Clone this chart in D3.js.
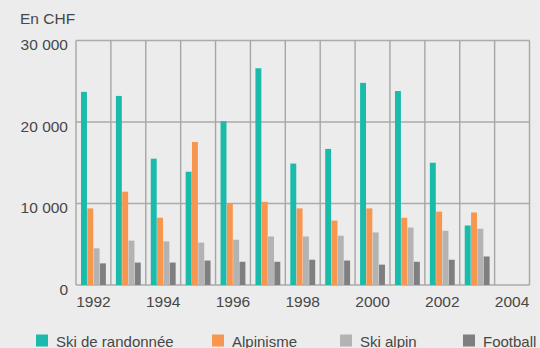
<!DOCTYPE html>
<html>
<head>
<meta charset="utf-8">
<script src="https://cdn.jsdelivr.net/npm/d3@7"></script>
<style>
  html, body { margin: 0; padding: 0; background: #ececec; }
  svg { display: block; }
  text { font-family: "Liberation Sans", Arial, Helvetica, sans-serif; fill: #474747; }
</style>
</head>
<body>
<svg id="chart" width="540" height="348"></svg>
<script>
// Annual values per sport, in CHF
const years = [1992, 1993, 1994, 1995, 1996, 1997, 1998, 1999, 2000, 2001, 2002, 2003, 2004];
const seriesNames = ["Ski de randonnée", "Alpinisme", "Ski alpin", "Football"];
const skiRando  = [23700, 23200, 15500, 13900, 20100, 26600, 14900, 16700, 24800, 23800, 15000, 7300, null];
const alpinisme = [9400, 11450, 8250, 17550, 10000, 10200, 9400, 7900, 9400, 8250, 9000, 8900, null];
const skiAlpin  = [4500, 5450, 5350, 5200, 5550, 5950, 5950, 6050, 6450, 7050, 6650, 6900, null];
const football  = [2650, 2750, 2750, 3000, 2850, 2850, 3100, 3000, 2500, 2850, 3100, 3500, null];
const yTicks = [0, 10000, 20000, 30000];
const xTickYears = [1992, 1994, 1996, 1998, 2000, 2002, 2004];
const colors = ["#1bbbab", "#f7964f", "#b3b3b3", "#7f7f82"];

const seriesValues = [skiRando, alpinisme, skiAlpin, football];

const svg = d3.select("#chart");
const plot = { left: 76, right: 529.5, top: 40.5, bottom: 285 };

const x = d3.scaleBand().domain(years).range([plot.left, plot.right]).padding(0);
const inner = d3.scaleBand().domain(d3.range(seriesNames.length))
  .range([5, x.bandwidth() - 5]).paddingInner(0.06);
const y = d3.scaleLinear().domain([0, 30000]).range([plot.bottom, plot.top]);

const fmt = v => d3.format(",")(v).replace(/,/g, " ");

// Grid: horizontal lines
svg.append("g").selectAll("line").data(yTicks).join("line")
  .attr("x1", plot.left).attr("x2", plot.right)
  .attr("y1", d => y(d)).attr("y2", d => y(d))
  .attr("stroke", "#ababab").attr("stroke-width", 1.5);

// Grid: vertical column separators
const vx = years.map(d => x(d)).concat([plot.right]);
svg.append("g").selectAll("line").data(vx).join("line")
  .attr("x1", d => d).attr("x2", d => d)
  .attr("y1", plot.top).attr("y2", plot.bottom)
  .attr("stroke", "#a6a6a6").attr("stroke-width", 1.4);

// Bars
const groups = svg.append("g").selectAll("g").data(years).join("g")
  .attr("transform", d => `translate(${x(d)},0)`);
groups.selectAll("rect")
  .data((yr, i) => seriesValues.map((s, k) => ({ k, v: s[i] })).filter(d => d.v != null))
  .join("rect")
  .attr("x", d => inner(d.k))
  .attr("width", inner.bandwidth())
  .attr("y", d => y(d.v))
  .attr("height", d => y(0) - y(d.v))
  .attr("fill", d => colors[d.k]);

// Y tick labels
svg.append("g").selectAll("text").data(yTicks).join("text")
  .attr("x", 68).attr("y", d => y(d) + 9.5)
  .attr("text-anchor", "end")
  .style("font-size", "15.5px")
  .text(d => fmt(d));

// X tick labels
svg.append("g").selectAll("text").data(xTickYears).join("text")
  .attr("x", d => x(d) + x.bandwidth() / 2).attr("y", 307)
  .attr("text-anchor", "middle")
  .style("font-size", "15.5px")
  .text(d => d);

// Unit label
svg.append("text").attr("x", 20).attr("y", 24)
  .style("font-size", "15.5px").text("En CHF");

// Legend
const legendX = [36, 212, 340, 463];
const legend = svg.append("g").selectAll("g").data(seriesNames).join("g")
  .attr("transform", (d, i) => `translate(${legendX[i]},334.5)`);
legend.append("rect").attr("width", 12).attr("height", 12)
  .attr("fill", (d, i) => colors[i]);
legend.append("text").attr("x", 20).attr("y", 12)
  .style("font-size", "15px").text(d => d);
</script>
</body>
</html>
